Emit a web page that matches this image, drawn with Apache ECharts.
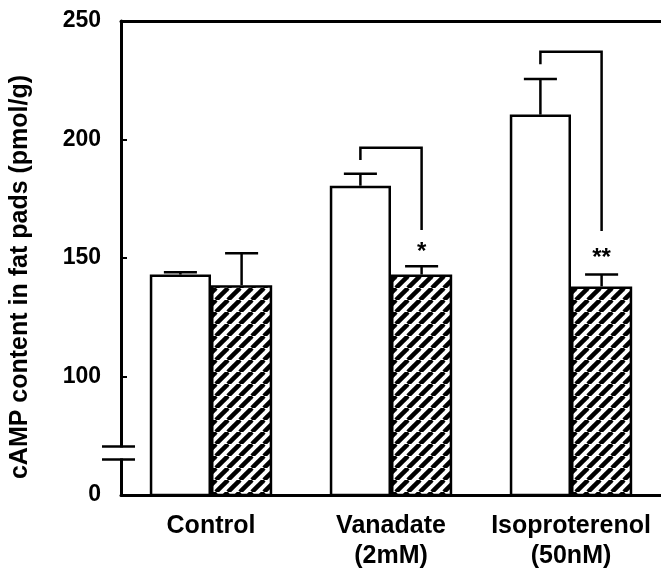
<!DOCTYPE html>
<html>
<head>
<meta charset="utf-8">
<script src="https://cdn.jsdelivr.net/npm/echarts@6/dist/echarts.min.js"></script>
<style>
  html, body { margin: 0; padding: 0; background: #fff; }
  #chartBar { width: 661px; height: 576px; }
</style>
</head>
<body>
<div id="chartBar"></div>
<script>
// data (axis is broken: bottom of axis shown as 0)
const categories = ['Control', 'Vanadate\n(2mM)', 'Isoproterenol\n(50nM)'];
const openValues = [143, 180.5, 210.5];
const openErrors = [1, 5, 15];
const hatchedValues = [138.5, 143, 138];
const hatchedErrors = [13.5, 3.5, 5];
// significance brackets: [category, top, left leg end, right leg end]
const bracketCats = [1, 2];
const bracketTops = [196.5, 237];
const bracketLeftEnds = [191.3, 231.8];
const bracketRightEnds = [161.8, 161.4];
const starLabels = ['*', '**'];
const starValues = [152.5, 150];
const yTicks = [50, 100, 150, 200, 250];
const yTickLabels = ['0', '100', '150', '200', '250'];

const BAR_RATIO = 0.34;
const FONT = '"Liberation Sans", Arial, sans-serif';

function hatchPattern() {
  const s = 12;
  const c = document.createElement('canvas');
  c.width = s; c.height = s;
  const ctx = c.getContext('2d');
  ctx.fillStyle = '#fff';
  ctx.fillRect(0, 0, s, s);
  ctx.strokeStyle = '#000';
  ctx.lineWidth = 4.5;
  for (let k = -1; k <= 1; k++) {
    ctx.beginPath();
    ctx.moveTo(k * s, s);
    ctx.lineTo(k * s + s, 0);
    ctx.stroke();
  }
  return c;
}

const chart = echarts.init(document.getElementById('chartBar'));

function errorItem(values, errors, side) {
  return values.map((v, i) => [i, v, errors[i], side]);
}

const lineStyle = { stroke: '#000', lineWidth: 2.5 };

chart.setOption({
  animation: false,
  grid: { left: 121, right: 0, top: 21, bottom: 81 },
  xAxis: [
    {
      type: 'category',
      data: categories,
      axisLine: { lineStyle: { color: '#000', width: 3 } },
      axisTick: { show: false },
      axisLabel: {
        interval: 0,
        color: '#000', fontFamily: FONT, fontWeight: 'bold',
        fontSize: 25, lineHeight: 30, margin: 16
      }
    },
    {
      type: 'category',
      position: 'top',
      data: categories,
      axisLine: { lineStyle: { color: '#000', width: 3 } },
      axisTick: { show: false },
      axisLabel: { show: false }
    }
  ],
  yAxis: {
    type: 'value',
    min: 50,
    max: 250,
    interval: 50,
    name: 'cAMP content in fat pads (pmol/g)',
    nameLocation: 'middle',
    nameGap: 88,
    nameTextStyle: {
      color: '#000', fontFamily: FONT, fontWeight: 'bold', fontSize: 25,
      padding: [0, 38, 0, 0]
    },
    axisLine: { show: true, lineStyle: { color: '#000', width: 3 } },
    axisTick: { show: true, inside: true, length: 6, lineStyle: { color: '#000', width: 2 } },
    splitLine: { show: false },
    axisLabel: {
      color: '#000', fontFamily: FONT, fontWeight: 'bold', fontSize: 23, margin: 20,
      formatter: v => yTickLabels[yTicks.indexOf(v)]
    }
  },
  series: [
    {
      type: 'bar',
      data: openValues,
      barWidth: (BAR_RATIO * 100) + '%',
      barGap: '0%',
      itemStyle: { color: '#fff', borderColor: '#000', borderWidth: 2.5 }
    },
    {
      type: 'bar',
      data: hatchedValues,
      barWidth: (BAR_RATIO * 100) + '%',
      barGap: '0%',
      itemStyle: {
        color: { image: hatchPattern(), repeat: 'repeat' },
        borderColor: '#000', borderWidth: 2.5
      }
    },
    {
      type: 'custom',
      z: 5,
      data: errorItem(openValues, openErrors, -1).concat(errorItem(hatchedValues, hatchedErrors, 1)),
      renderItem: function (params, api) {
        const idx = api.value(0), v = api.value(1), e = api.value(2), side = api.value(3);
        const barW = api.size([1, 0])[0] * BAR_RATIO;
        const base = api.coord([idx, v]);
        const x = base[0] + side * barW / 2;
        const top = api.coord([idx, v + e])[1];
        const half = barW * 0.27;
        return {
          type: 'group',
          children: [
            { type: 'line', shape: { x1: x, y1: base[1], x2: x, y2: top }, style: lineStyle },
            { type: 'line', shape: { x1: x - half, y1: top, x2: x + half, y2: top }, style: lineStyle }
          ]
        };
      }
    },
    {
      type: 'custom',
      z: 5,
      data: bracketCats.map((c, i) => [c, bracketTops[i], bracketLeftEnds[i], bracketRightEnds[i], starValues[i], i]),
      renderItem: function (params, api) {
        const idx = api.value(0);
        const barW = api.size([1, 0])[0] * BAR_RATIO;
        const cx = api.coord([idx, api.value(1)])[0];
        const xl = cx - barW / 2, xr = cx + barW / 2;
        const yTop = api.coord([idx, api.value(1)])[1];
        const yL = api.coord([idx, api.value(2)])[1];
        const yR = api.coord([idx, api.value(3)])[1];
        const yStar = api.coord([idx, api.value(4)])[1];
        return {
          type: 'group',
          children: [
            { type: 'polyline', shape: { points: [[xl, yL], [xl, yTop], [xr, yTop], [xr, yR]] }, style: { stroke: '#000', lineWidth: 2.5, fill: null } },
            { type: 'text', x: xr, y: yStar, style: {
              text: starLabels[api.value(5)], fill: '#000', font: 'bold 24px ' + FONT,
              align: 'center', verticalAlign: 'middle'
            } }
          ]
        };
      }
    }
  ]
});

// axis break marks
const axisX = 121;
const yHi = chart.convertToPixel({ yAxisIndex: 0 }, 70.5);
const yLo = chart.convertToPixel({ yAxisIndex: 0 }, 65);
chart.setOption({
  graphic: [
    { type: 'rect', shape: { x: axisX - 3, y: yHi + 1, width: 6, height: yLo - yHi - 2 }, style: { fill: '#fff' }, z: 100 },
    { type: 'line', shape: { x1: axisX - 19, y1: yHi, x2: axisX + 14, y2: yHi }, style: { stroke: '#000', lineWidth: 2.5 }, z: 101 },
    { type: 'line', shape: { x1: axisX - 19, y1: yLo, x2: axisX + 14, y2: yLo }, style: { stroke: '#000', lineWidth: 2.5 }, z: 101 }
  ]
});
</script>
</body>
</html>
